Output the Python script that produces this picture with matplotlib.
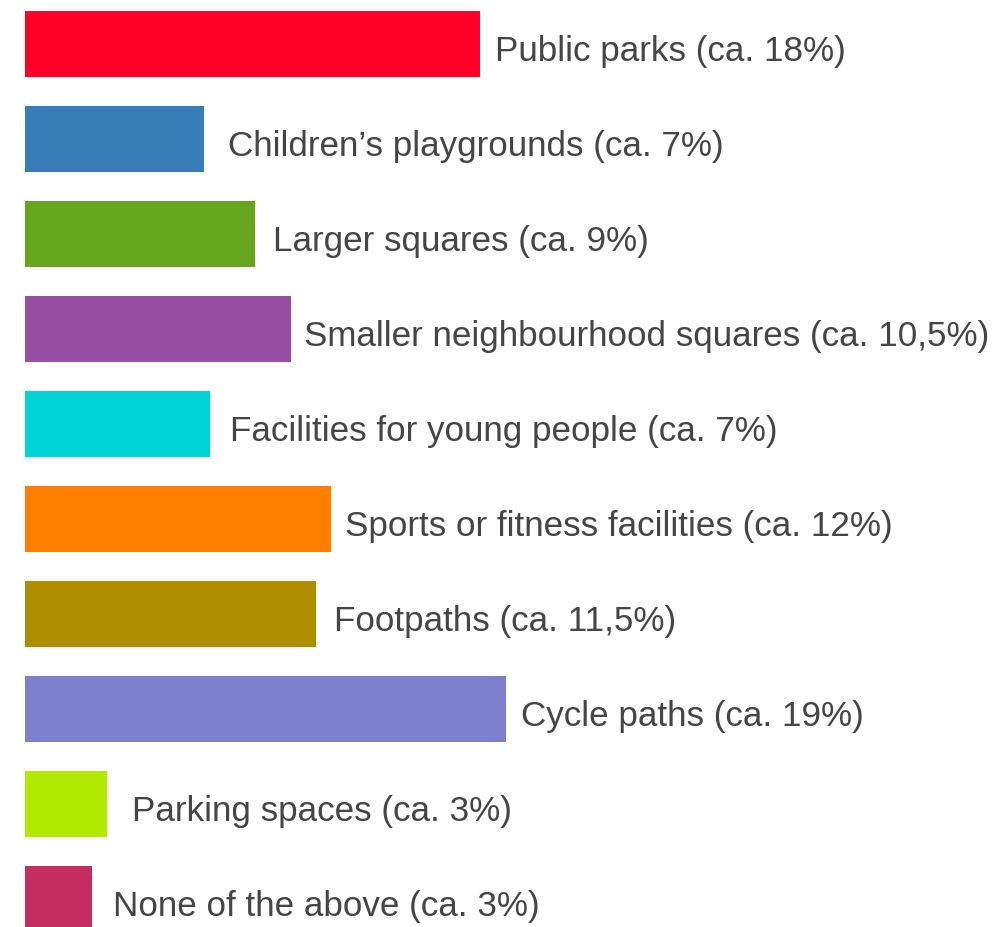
import numpy as np
import matplotlib.pyplot as plt

# Data
categories = [
    "Public parks",
    "Children\u2019s playgrounds",
    "Larger squares",
    "Smaller neighbourhood squares",
    "Facilities for young people",
    "Sports or fitness facilities",
    "Footpaths",
    "Cycle paths",
    "Parking spaces",
    "None of the above",
]
share_labels = ["ca. 18%", "ca. 7%", "ca. 9%", "ca. 10,5%", "ca. 7%",
                "ca. 12%", "ca. 11,5%", "ca. 19%", "ca. 3%", "ca. 3%"]
values = [18.0, 7.08, 9.1, 10.5, 7.3, 12.1, 11.5, 19.0, 3.25, 2.66]

colors = ["#FF0029", "#377EB8", "#66A61E", "#984EA3", "#00D2D5",
          "#FF7F00", "#AF8D00", "#7F80CD", "#B3E900", "#C42E60"]
# gap between bar end and its label, in points
label_gaps = [11, 17, 13, 10, 15, 10, 13, 11, 18, 15]

fig = plt.figure(figsize=(10.08, 9.28), dpi=100)
ax = fig.add_axes([0, 0, 1, 1])

y = np.arange(len(categories))
ax.barh(y, values, height=0.695, color=colors, edgecolor="none")

for yi, v, cat, share, gap in zip(y, values, categories, share_labels, label_gaps):
    ax.annotate(f"{cat} ({share})", xy=(v, yi), xytext=(gap, -11.5),
                textcoords="offset points", va="baseline", ha="left",
                fontsize=25.2, color="#454545", family="Liberation Sans")

px_per_unit = 480.5 / 19.0
ax.set_xlim(-25 / px_per_unit, (1008 - 25) / px_per_unit)
ax.set_ylim((928 - 45) / 95, -45 / 95)
ax.axis("off")

fig.savefig("out.png", dpi=100)
